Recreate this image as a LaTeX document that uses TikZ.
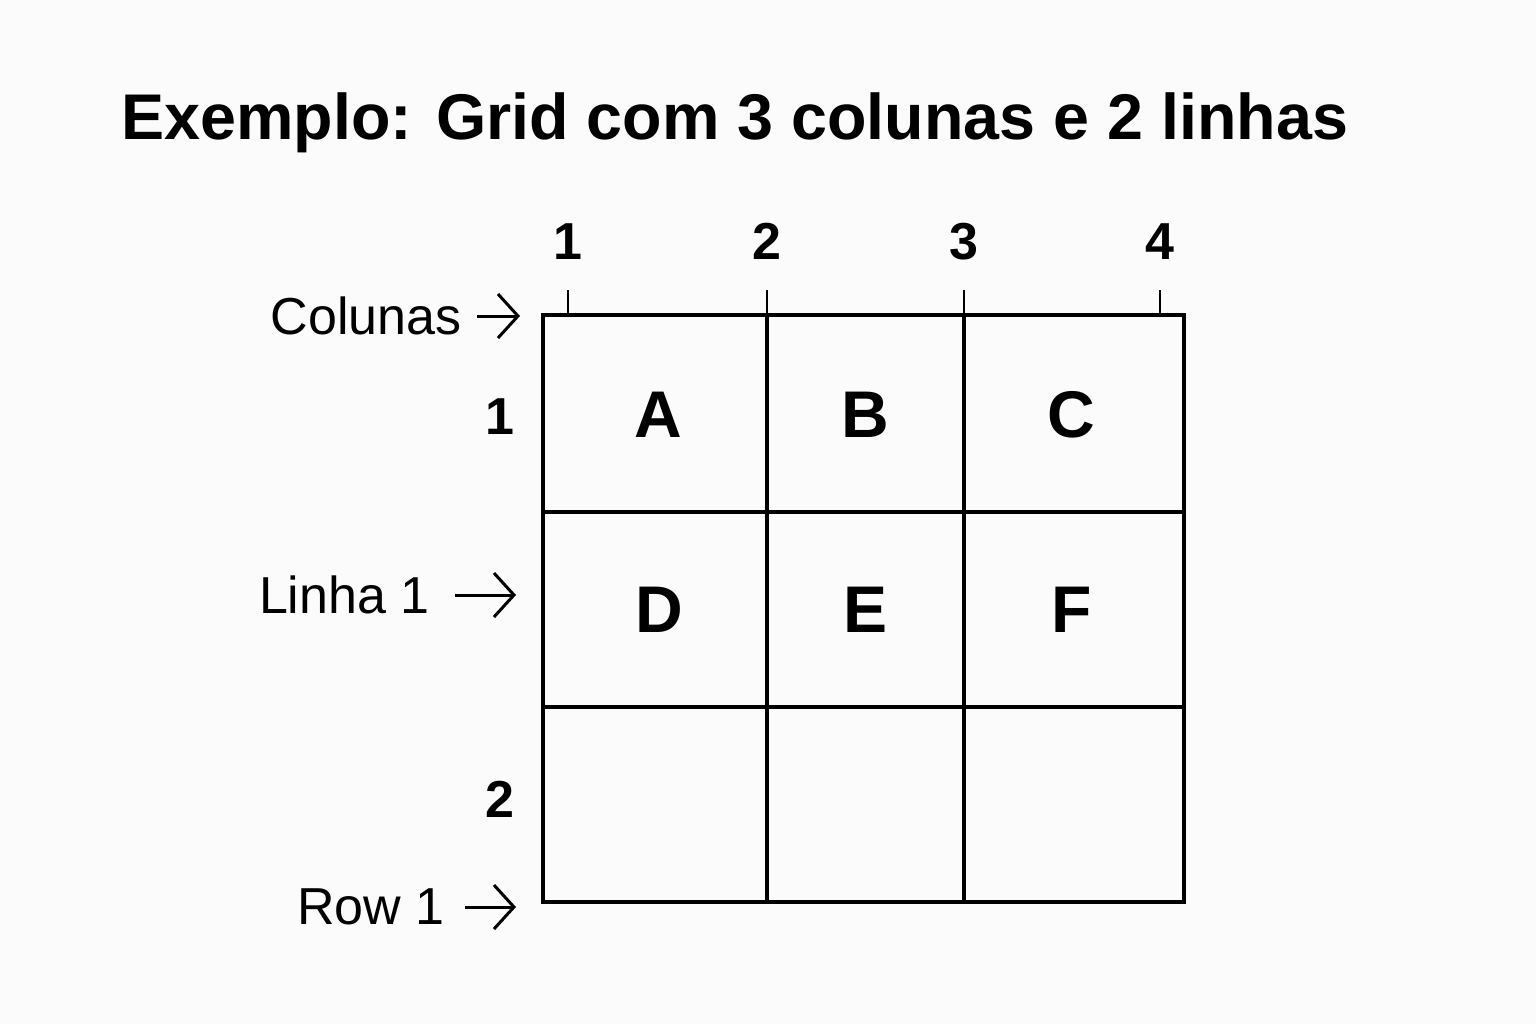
\documentclass[tikz,border=0pt]{standalone}
\usepackage{fontspec}
\setmainfont{Liberation Sans}
\usetikzlibrary{arrows.meta, positioning}
\tikzset{
  gridline/.style={line width=1.7pt},
  tickline/.style={line width=1.4pt},
  celltext/.style={font=\fontsize{33}{33}\selectfont\bfseries},
  numtext/.style={font=\fontsize{26}{26}\selectfont\bfseries, anchor=base, inner sep=0pt},
  sidelabel/.style={font=\fontsize{26}{26}\selectfont, anchor=east, inner sep=0pt},
  pointer/.style={-{Straight Barb[length=10pt,width=22pt]}, line width=1.5pt}
}

\begin{document}
\begin{tikzpicture}[x=0.5pt, y=-0.5pt]

		\useasboundingbox[fill=gray!3] (0,0) rectangle (1536,1024);
		
		% title
		\node[font=\fontsize{32.3}{33}\selectfont\bfseries, anchor=base west, inner sep=0pt] (title) at (121,139) {Exemplo: Grid com 3 colunas e 2 linhas};
		
		% grid
		\draw[gridline] (543,315) rectangle (1184,902);
		\foreach \x in {767, 964}
		{\draw[gridline] (\x,315)--(\x,902);
		}
		\foreach \y in {512, 707}
		{\draw[gridline] (543,\y)--(1184,\y);
		}
		
		% column numbers
		\foreach \x/\n in {568/1, 767/2, 964/3, 1160/4}
		{\draw[tickline] (\x,290)--(\x,315);
		 \node[numtext] (col\n) at (\x,259) {\n};
		}
		
		% row numbers
		\node[numtext] (row1) at (500,434) {1};
		\node[numtext] (row2) at (500,817) {2};
		
		% cells
		\foreach \x/\y/\l in {658/415/A, 865/415/B, 1071/415/C, 659/610/D, 865/610/E, 1072/610/F}
		{\node[celltext] (cell\l) at (\x,\y) {\l};
		}
		
		% side labels
		\node[sidelabel] (colunas) at (462,316) {Colunas};
		\coordinate (colunastip) at (520,316);
		\draw[pointer] ([xshift=7.5pt]colunas.east)--(colunastip);
		
		\node[sidelabel] (linha) at (430,595) {Linha 1};
		\coordinate (linhatip) at (516,595);
		\draw[pointer] ([xshift=12.5pt]linha.east)--(linhatip);
		
		\node[sidelabel] (row) at (445,907) {Row 1};
		\coordinate (rowtip) at (516,907);
		\draw[pointer] ([xshift=10pt]row.east)--(rowtip);
		
\end{tikzpicture}
\end{document}
